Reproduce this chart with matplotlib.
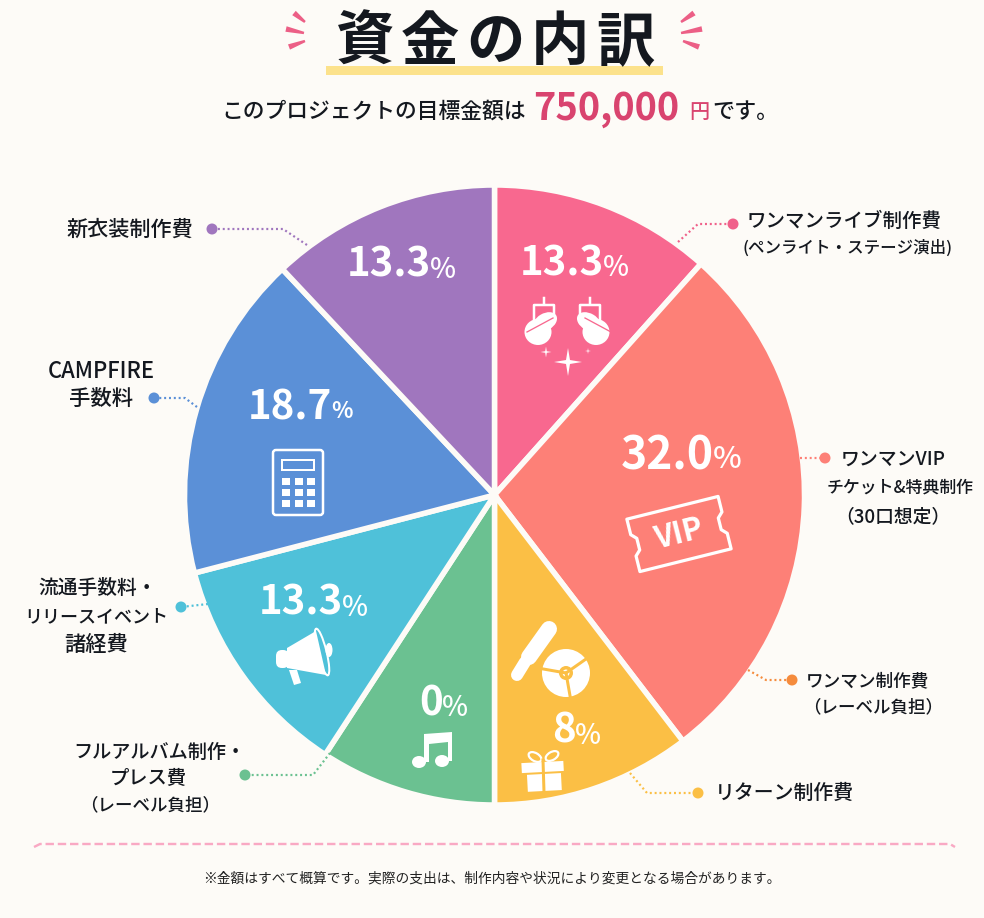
import numpy as np
import matplotlib
matplotlib.use('Agg')
import matplotlib.pyplot as plt
from matplotlib.patches import Circle, Ellipse, Polygon, Rectangle, FancyBboxPatch
from matplotlib.transforms import Affine2D

plt.rcParams['font.family'] = ['Noto Sans CJK JP', 'DejaVu Sans']

# 扇形の角度シェア(絵から読んだ値)。表示ラベルとは一致しない
shares = [11.6, 28.0, 10.4, 9.2, 11.75, 17.05, 12.0]
colors = ['#F8688F', '#FD8077', '#FBBF45', '#6BC191', '#4FC1D9', '#5B90D7', '#A076BE']
pct_labels = ['13.3', '32.0', '8', '0', '13.3', '18.7', '13.3']
title_chars = ['資', '金', 'の', '内', '訳']

BG = '#FDFBF7'
INK = '#14181F'
PINK = '#D9446F'

fig = plt.figure(figsize=(9.84, 9.18), dpi=100, facecolor=BG)
ax = fig.add_axes([0, 0, 1, 1])
px = 0.72  # 1px -> pt

# 円グラフ本体(y軸反転なので startangle=270 で上から時計回り)
ax.pie(shares, colors=colors, startangle=270, counterclock=True, center=(494.5, 495), radius=310,
       wedgeprops=dict(edgecolor=BG, linewidth=5.5 * px))
ax.set_xlim(0, 984)
ax.set_ylim(918, 0)
ax.set_aspect('auto')
ax.axis('off')


def txt(x, y, s, size, weight='medium', color=INK, ha='center', **kw):
    ax.text(x, y, s, fontsize=size, fontweight=weight, color=color, ha=ha, va='center', **kw)


# タイトル
for i, ch in enumerate(title_chars):
    txt(365 + 65 * i, 43, ch, 42, weight='bold')
ax.add_patch(Rectangle((326, 66), 337, 9, color='#FCE28C', lw=0))

for a, b in [((294, 13), (305, 22)), ((286, 29), (304, 33)), ((289, 47), (305, 41)),
             ((694, 13), (681, 22)), ((702, 29), (681, 33)), ((699, 47), (683, 41))]:
    a, b = np.array(a, float), np.array(b, float)
    n = (b - a)[::-1] * np.array([1, -1]) / np.hypot(*(b - a))
    ax.add_patch(Polygon([a + n * 2.8, a - n * 2.8, b - n * 1.2, b + n * 1.2], color='#EC5F86', lw=0))

# サブタイトル
txt(221, 112, 'このプロジェクトの目標金額は', 15.7, ha='left')
txt(533, 108, '750,000', 27.3, weight='bold', color=PINK, ha='left')
txt(699, 112, '円', 14.5, color=PINK)
txt(745, 112, 'です。', 15.9)

# パーセント表示
pct_pos = [(604, 264, 29, 20, 'medium'), (714, 456, 32, 22, 'medium'), (576, 731, 29, 20, 'medium'),
           (443, 704, 29, 20, 'medium'), (343, 603, 29, 20, 'medium'), (332, 408, 29, 16, 'bold'),
           (431, 265, 29, 20, 'medium')]
for lab, (x, y, s1, s2, w2) in zip(pct_labels, pct_pos):
    txt(x, y, lab, s1, weight='bold', color='white', ha='right')
    txt(x - 1, y + 4, '%', s2, weight=w2, color='white', ha='left')

# 引き出し線
leaders = [
    ([(678, 242), (698, 224), (733, 224)], '#F0608A'),
    ([(800, 458), (825, 458)], '#FD8077'),
    ([(748, 670), (766, 680), (792, 680)], '#F58B3C'),
    ([(630, 773), (647, 793), (698, 793)], '#FBBF45'),
    ([(330, 753), (313, 775), (245, 775)], '#6BC191'),
    ([(208, 604), (181, 607)], '#4FC1D9'),
    ([(197, 407), (185, 398), (154, 398)], '#5B90D7'),
    ([(307, 245), (283, 229), (212, 229)], '#A076BE'),
]
for pts, c in leaders:
    xs, ys = zip(*pts)
    ax.plot(xs, ys, color=c, lw=2.2 * px, ls=(0, (0.9, 1.3)))
    ax.add_patch(Circle(pts[-1], 5.5, color=c, lw=0, zorder=3))

# ラベル
labels = [
    (844, 221, 'ワンマンライブ制作費', 14), (848, 248, '(ペンライト・ステージ演出)', 11.9),
    (893, 459, 'ワンマンVIP', 13.6), (900, 488, 'チケット&特典制作', 12.2), (893, 517, '（30口想定）', 13.5),
    (868, 681, 'ワンマン制作費', 12.7), (873, 707, '（レーベル負担）', 12.6),
    (784, 793, 'リターン制作費', 14.3),
    (159, 752, 'フルアルバム制作・', 13.8), (148, 779, 'プレス費', 13.9), (150, 805, '（レーベル負担）', 12.6),
    (98, 588, '流通手数料・', 14.2), (96, 617, 'リリースイベント', 13), (96, 645, '諸経費', 15.3),
    (101, 371, 'CAMPFIRE', 15.8), (101, 399, '手数料', 15.4),
    (130, 230, '新衣装制作費', 15.2),
]
for x, y, s, size in labels:
    txt(x, y, s, size)

# 下の破線と注記
ax.plot([34, 40, 950, 955], [847, 844, 844, 847], color='#F9A9C4', lw=2.4 * px, ls=(0, (3.5, 1.6)))
txt(492, 878, '※金額はすべて概算です。実際の支出は、制作内容や状況により変更となる場合があります。', 9.9, weight='regular', color='#222')


# --- アイコン ---
W = 'white'


def sparkle(x, y, r):
    t = np.arange(8) * np.pi / 4
    rr = np.where(np.arange(8) % 2 == 0, r, r * 0.2)
    ax.add_patch(Polygon(np.c_[x + rr * np.sin(t), y + rr * np.cos(t)], color=W, lw=0))


# スポットライト
for sx, xb in [(1, 544), (-1, 590)]:
    ax.plot([xb, xb], [298, 304], color=W, lw=2.5 * px)
    ax.plot([xb - 10, xb - 10, xb + 10, xb + 10], [322, 305, 305, 322], color=W, lw=2.5 * px, solid_joinstyle='round')
    ax.add_patch(Ellipse((xb + 1 * sx, 322), 26, 17, angle=-30 * sx, color=W, lw=0, zorder=3))
    ax.add_patch(Ellipse((xb - 6 * sx, 332), 27, 26, color=W, lw=0, zorder=3))
    ax.plot([xb - 6 * sx - 11, xb - 6 * sx + 15], [325 + 7 * sx, 325 - 7 * sx] if sx > 0 else [325 - 7, 325 + 7],
            color='#F8688F', lw=1.3 * px, zorder=4)
sparkle(568, 362, 14)
sparkle(546, 352, 5.5)
sparkle(588, 351, 3)

# チケット
tx = np.array([-47, 47, 47, 42, 42, 47, 47, -47, -47, -42, -42, -47, -47], float)
ty = np.array([-27, -27, -11, -6, 6, 11, 27, 27, 11, 6, -6, -11, -27], float)
tk = Affine2D().rotate_deg(-14).translate(679, 534)
tp = tk.transform(np.c_[tx, ty])
ax.add_patch(Polygon(tp, closed=True, fill=False, ec=W, lw=3.2 * px, joinstyle='round'))
txt(679, 534, 'VIP', 22, weight='bold', color=W, rotation=14, rotation_mode='anchor')

# ペンライトとCD
ax.plot([549, 529], [629, 657], color=W, lw=16 * px, solid_capstyle='round')
ax.plot([525, 517], [662, 675], color=W, lw=12 * px, solid_capstyle='round')
ax.add_patch(Circle((566, 673), 24, color=W, lw=0))
for ang in [-170, -35, 80]:
    ax.plot([566, 566 + 25 * np.cos(np.radians(ang))], [673, 673 + 25 * np.sin(np.radians(ang))], color='#FBBF45', lw=3 * px)
ax.add_patch(Circle((566, 673), 7, color='#FBBF45', lw=0))
ax.add_patch(Circle((566, 673), 3.5, color=W, lw=0))

# プレゼント
gt = Affine2D().rotate_deg_around(543, 775, -3) + ax.transData
ax.add_patch(Rectangle((522, 762), 42, 10, color=W, lw=0, transform=gt))
ax.add_patch(Rectangle((527, 774), 34, 17, color=W, lw=0, transform=gt))
ax.plot([543, 544], [760, 792], color='#FBBF45', lw=3 * px)
ax.add_patch(Ellipse((535, 757), 14, 8, angle=30, fill=False, ec=W, lw=2.2 * px))
ax.add_patch(Ellipse((552, 756), 14, 8, angle=-30, fill=False, ec=W, lw=2.2 * px))

# 音符
ax.add_patch(Ellipse((419, 762), 14, 12, color=W, lw=0))
ax.add_patch(Ellipse((442, 761), 14, 12, color=W, lw=0))
ax.add_patch(Polygon([(424, 734), (452, 732), (452, 761), (448, 761), (448, 742), (429, 744), (429, 762), (424, 762)], color=W, lw=0))

# メガホン
ax.add_patch(Polygon([(287, 648), (316, 631), (326, 675), (287, 668)], color=W, lw=0))
ax.add_patch(FancyBboxPatch((276, 650), 13, 18, boxstyle='round,pad=0,rounding_size=6', color=W, lw=0))
ax.add_patch(Polygon([(289, 670), (297, 670), (301, 683), (294, 685)], color=W, lw=0))
ax.add_patch(Ellipse((322, 652), 9, 48, angle=-14, fill=False, ec=W, lw=2 * px))
ax.add_patch(Ellipse((329, 650), 7, 14, color=W, lw=0))

# 電卓
ax.add_patch(FancyBboxPatch((273, 450), 50, 65, boxstyle='round,pad=0,rounding_size=3', fill=False, ec=W, lw=2.5 * px))
ax.add_patch(Rectangle((282, 460), 32, 10, fill=False, ec=W, lw=2 * px))
for bx in [286, 298.5, 311]:
    for by in [481, 492, 503]:
        ax.add_patch(Rectangle((bx - 4, by - 3.5), 8, 7, color=W, lw=0))

fig.savefig('out.png', dpi=100, facecolor=BG)
